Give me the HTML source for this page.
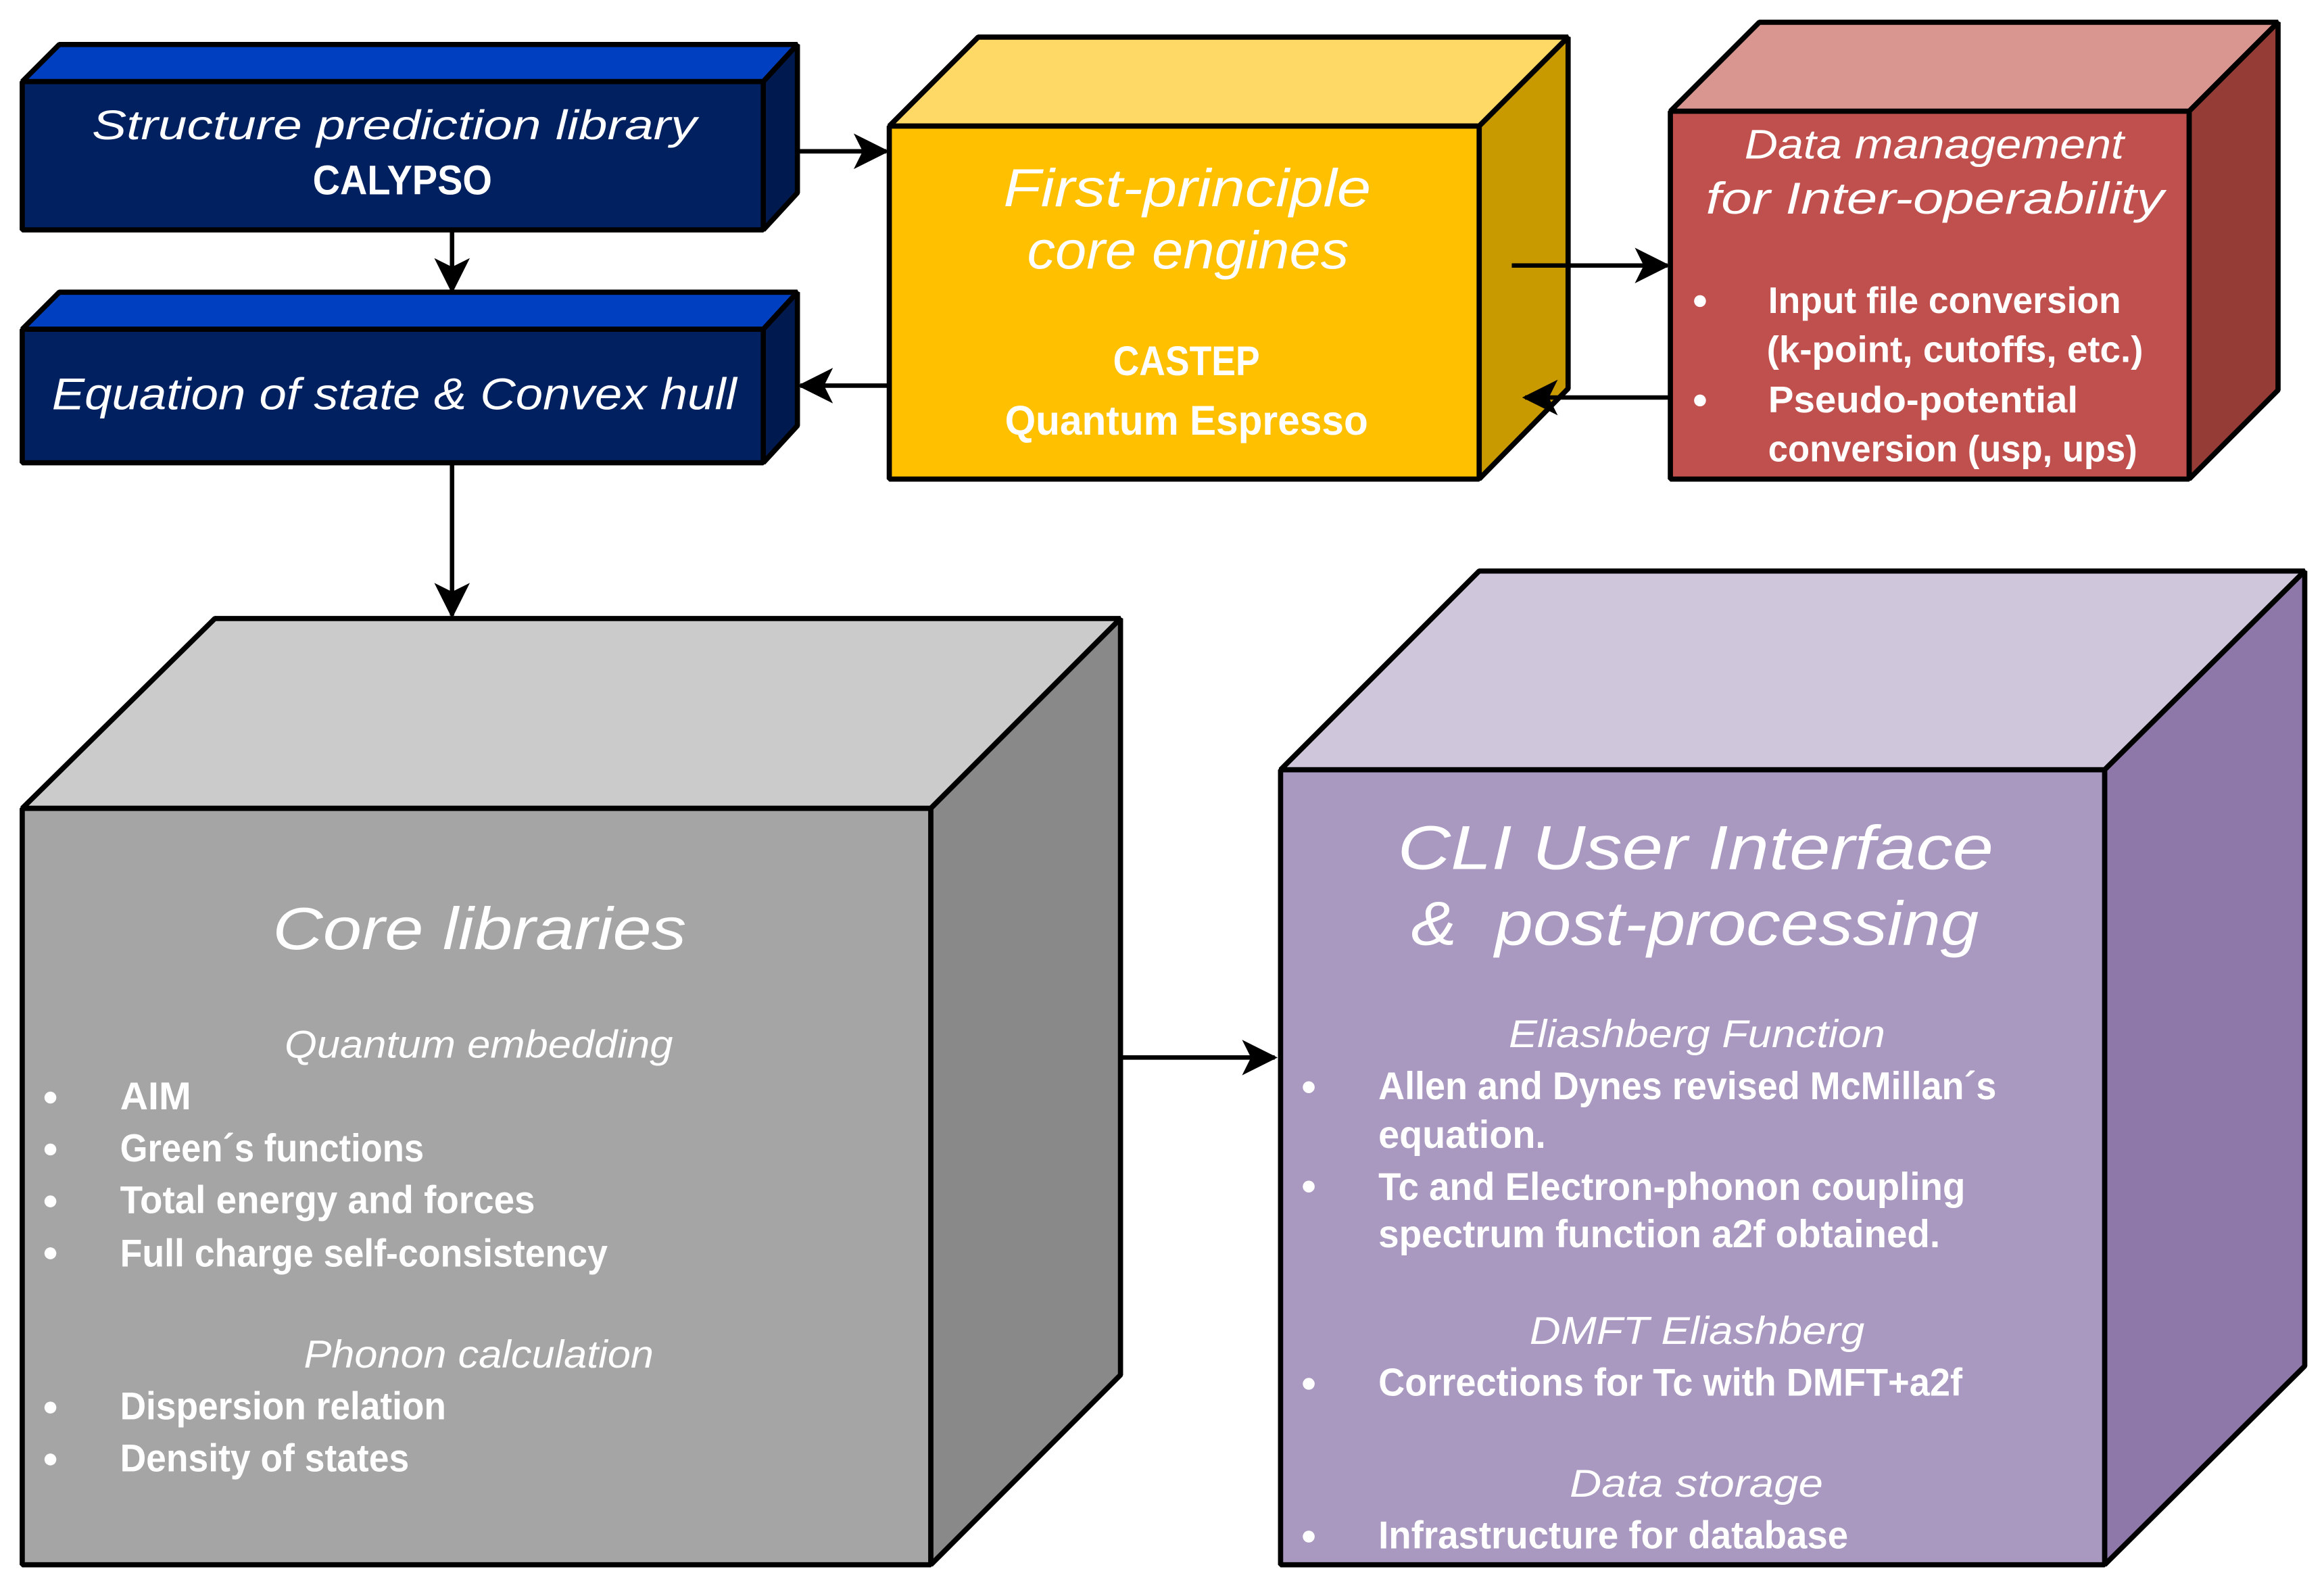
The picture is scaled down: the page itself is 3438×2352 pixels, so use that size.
<!DOCTYPE html>
<html><head><meta charset="utf-8"><style>
html,body{margin:0;padding:0;background:#fff}
svg{display:block}
.t{font-family:"Liberation Sans",sans-serif;font-style:italic;fill:#fff}
.b{font-family:"Liberation Sans Narrow","Liberation Sans",sans-serif;font-weight:bold;fill:#fff}
</style></head><body>
<svg width="3438" height="2352" viewBox="0 0 1568 1072" preserveAspectRatio="none" xmlns="http://www.w3.org/2000/svg">
<defs>
<marker id="a2" markerWidth="24" markerHeight="24" refX="22" refY="12" orient="auto" markerUnits="userSpaceOnUse" viewBox="0 0 24 24"><path d="M0,0 L24,12 L0,24 L6,12 z" fill="#000"/></marker></defs>
<g stroke="#000" stroke-width="3.5" stroke-linejoin="bevel">
<polygon points="15,55 40,30 538,30 515,55" fill="#0040c0"/>
<polygon points="515,55 538,30 538,130 515,155" fill="#001a50"/>
<rect x="15" y="55" width="500" height="100" fill="#002060"/>
<polygon points="15,222 40,197 538,197 515,222" fill="#0040c0"/>
<polygon points="515,222 538,197 538,287 515,312" fill="#001a50"/>
<rect x="15" y="222" width="500" height="90" fill="#002060"/>
<polygon points="600,85 660,25 1058,25 998,85" fill="#ffd966"/>
<polygon points="998,85 1058,25 1058,262 998,323" fill="#c89a00"/>
<rect x="600" y="85" width="398" height="238" fill="#ffc000"/>
<polygon points="1127,75 1187,15 1537,15 1477,75" fill="#d9958f"/>
<polygon points="1477,75 1537,15 1537,263 1477,323" fill="#963c36"/>
<rect x="1127" y="75" width="350" height="248" fill="#c0504d"/>
<polygon points="15,545 145,417 756,417 628,545" fill="#cbcbcb"/>
<polygon points="628,545 756,417 756,927 628,1055" fill="#898989"/>
<rect x="15" y="545" width="613" height="510" fill="#a5a5a5"/>
<polygon points="864,519 998,385 1555,385 1420,519" fill="#d0c6dc"/>
<polygon points="1420,519 1555,385 1555,921 1420,1055" fill="#8e77a9"/>
<rect x="864" y="519" width="556" height="536" fill="#a998bf"/>
</g>
<g stroke="#000" stroke-width="3" fill="none">
<line x1="305" y1="155" x2="305" y2="196" marker-end="url(#a2)"/>
<line x1="305" y1="312" x2="305" y2="415" marker-end="url(#a2)"/>
<line x1="538" y1="102" x2="598" y2="102" marker-end="url(#a2)"/>
<line x1="600" y1="260" x2="540" y2="260" marker-end="url(#a2)"/>
<line x1="1020" y1="179" x2="1125" y2="179" marker-end="url(#a2)"/>
<line x1="1127" y1="268" x2="1029" y2="268" marker-end="url(#a2)"/>
<line x1="756" y1="713" x2="860" y2="713" marker-end="url(#a2)"/>
</g>
<g class="t" text-anchor="start">
<text x="62" y="94" font-size="28" textLength="408" lengthAdjust="spacingAndGlyphs">Structure prediction library</text>
<text x="35" y="276" font-size="30" textLength="462" lengthAdjust="spacingAndGlyphs">Equation of state &amp; Convex hull</text>
<text x="677" y="139" font-size="36" textLength="248" lengthAdjust="spacingAndGlyphs">First-principle</text>
<text x="693" y="181" font-size="36" textLength="217" lengthAdjust="spacingAndGlyphs">core engines</text>
<text x="1177" y="107" font-size="28" textLength="256" lengthAdjust="spacingAndGlyphs">Data management</text>
<text x="1151" y="144" font-size="30" textLength="309" lengthAdjust="spacingAndGlyphs">for Inter-operability</text>
<text x="184" y="640" font-size="40" textLength="279" lengthAdjust="spacingAndGlyphs">Core libraries</text>
<text x="192" y="713" font-size="26" textLength="262" lengthAdjust="spacingAndGlyphs">Quantum embedding</text>
<text x="205" y="922" font-size="26" textLength="236" lengthAdjust="spacingAndGlyphs">Phonon calculation</text>
<text x="943" y="586" font-size="42" textLength="402" lengthAdjust="spacingAndGlyphs">CLI User Interface</text>
<text x="952" y="637" font-size="42" textLength="383" lengthAdjust="spacingAndGlyphs" xml:space="preserve">&amp;  post-processing</text>
<text x="1018" y="706" font-size="26" textLength="254" lengthAdjust="spacingAndGlyphs">Eliashberg Function</text>
<text x="1032" y="906" font-size="26" textLength="226" lengthAdjust="spacingAndGlyphs">DMFT Eliashberg</text>
<text x="1059" y="1009" font-size="26" textLength="171" lengthAdjust="spacingAndGlyphs">Data storage</text>
</g>
<g class="b">
<text x="211" y="131" font-size="28" textLength="121" lengthAdjust="spacingAndGlyphs">CALYPSO</text>
<text x="751" y="253" font-size="28" textLength="99" lengthAdjust="spacingAndGlyphs">CASTEP</text>
<text x="678" y="293" font-size="28" textLength="245" lengthAdjust="spacingAndGlyphs">Quantum Espresso</text>
<text x="1193" y="211" font-size="25" textLength="238" lengthAdjust="spacingAndGlyphs">Input file conversion</text>
<text x="1192" y="244" font-size="25" textLength="254" lengthAdjust="spacingAndGlyphs">(k-point, cutoffs, etc.)</text>
<text x="1193" y="278" font-size="25" textLength="209" lengthAdjust="spacingAndGlyphs">Pseudo-potential</text>
<text x="1193" y="311" font-size="25" textLength="249" lengthAdjust="spacingAndGlyphs">conversion (usp, ups)</text>
<text x="81" y="748" font-size="26" textLength="48" lengthAdjust="spacingAndGlyphs">AIM</text>
<text x="81" y="783" font-size="26" textLength="205" lengthAdjust="spacingAndGlyphs">Green´s functions</text>
<text x="81" y="818" font-size="26" textLength="280" lengthAdjust="spacingAndGlyphs">Total energy and forces</text>
<text x="81" y="854" font-size="26" textLength="329" lengthAdjust="spacingAndGlyphs">Full charge self-consistency</text>
<text x="81" y="957" font-size="26" textLength="220" lengthAdjust="spacingAndGlyphs">Dispersion relation</text>
<text x="81" y="992" font-size="26" textLength="195" lengthAdjust="spacingAndGlyphs">Density of states</text>
<text x="930" y="741" font-size="26" textLength="417" lengthAdjust="spacingAndGlyphs">Allen and Dynes revised McMillan´s</text>
<text x="930" y="774" font-size="26" textLength="113" lengthAdjust="spacingAndGlyphs">equation.</text>
<text x="930" y="809" font-size="26" textLength="396" lengthAdjust="spacingAndGlyphs">Tc and Electron-phonon coupling</text>
<text x="930" y="841" font-size="26" textLength="379" lengthAdjust="spacingAndGlyphs">spectrum function a2f obtained.</text>
<text x="930" y="941" font-size="26" textLength="394" lengthAdjust="spacingAndGlyphs">Corrections for Tc with DMFT+a2f</text>
<text x="930" y="1044" font-size="26" textLength="317" lengthAdjust="spacingAndGlyphs">Infrastructure for database</text>
</g>
<g fill="#fff">
<circle cx="1147" cy="203" r="4"/><circle cx="1147" cy="270" r="4"/>
<circle cx="34" cy="740" r="4"/><circle cx="34" cy="775" r="4"/><circle cx="34" cy="810" r="4"/><circle cx="34" cy="845" r="4"/>
<circle cx="34" cy="949" r="4"/><circle cx="34" cy="984" r="4"/>
<circle cx="883" cy="733" r="4"/><circle cx="883" cy="800" r="4"/><circle cx="883" cy="933" r="4"/><circle cx="883" cy="1036" r="4"/>
</g>
</svg>
</body></html>
